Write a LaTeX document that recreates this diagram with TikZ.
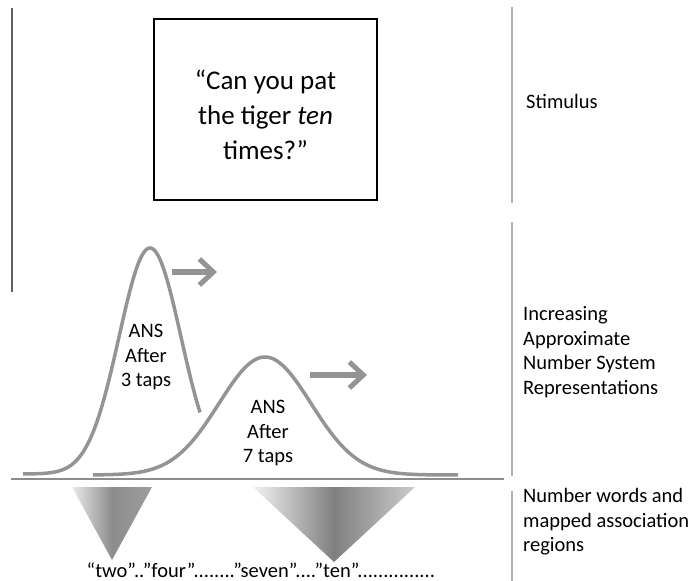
\documentclass[tikz,border=0pt]{standalone}
\usepackage{fontspec}
\setmainfont{Carlito}
\usepackage{tikz}
\usetikzlibrary{arrows.meta}

\begin{document}
\begin{tikzpicture}[x=1pt,y=-1pt,
		curve/.style={draw=black!42,line width=3.5pt},
		growarrow/.style={draw=black!42,line width=5.5pt,-{Straight Barb[length=14pt,width=26pt,line width=5pt]}},
		divider/.style={draw=black!30,line width=2.4pt},
		sidelabel/.style={anchor=west,align=left,inner sep=0pt,font=\fontsize{20.5}{24.5}\selectfont},
		inlabel/.style={align=center,inner sep=0pt,font=\fontsize{20.5}{24.5}\selectfont},
		stimbox/.style={draw=black,line width=2.2pt,minimum width=223pt,minimum height=181pt,inner sep=0pt}]
	\useasboundingbox (0,0) rectangle (697,581);

	% stimulus
	\node (box) at (265.5,109.5) [stimbox] {};
	\node (quote) at (265.5,115) [inlabel,font=\fontsize{27}{35}\selectfont]
		{“Can you pat\\the tiger \textit{ten}\\times?”};
	\draw [draw=black!62,line width=1.6pt] (12,8) -- (12,292);

	% ANS curves
	\draw [curve] plot[domain=23:200,samples=90,smooth] (\x,{474-226*exp(-((\x-150)/31)^2/2)});
	\draw [curve] plot[domain=93:458,samples=120,smooth] (\x,{475-118*exp(-((\x-265)/46)^2/2)});
	\node (ans3) at (146,357) [inlabel] {ANS\\After\\3 taps};
	\node (ans7) at (268,433) [inlabel] {ANS\\After\\7 taps};
	\coordinate (s1) at (172,272);
	\coordinate (e1) at (217,272);
	\coordinate (s2) at (310,375);
	\coordinate (e2) at (367,375);
	\draw [growarrow] (s1) -- (e1);
	\draw [growarrow] (s2) -- (e2);
	\draw [draw=black!45,line width=1.3pt] (11,479) -- (504,479);

	% number word regions
	\shade [left color=black!8,right color=black!38,middle color=black!45]
		(72,487) -- (152,487) -- (112,560) -- cycle;
	\shade [left color=black!5,right color=black!20,middle color=black!50]
		(253,487) -- (415,487) -- (334,562) -- cycle;
	\node (words) at (261,570) [inlabel]
		{“two”..”four”........”seven”....”ten”...............};

	% right column
	\draw [divider] (512,7) -- (512,203);
	\draw [divider] (512,222) -- (512,476);
	\draw [divider] (512,491) -- (512,581);
	\node (stim) at (526,101) [sidelabel] {Stimulus};
	\node (ans) at (523,352) [sidelabel] {Increasing\\Approximate\\Number System\\Representations};
	\node (map) at (523,522) [sidelabel] {Number words and\\mapped association\\regions};
\end{tikzpicture}
\end{document}
